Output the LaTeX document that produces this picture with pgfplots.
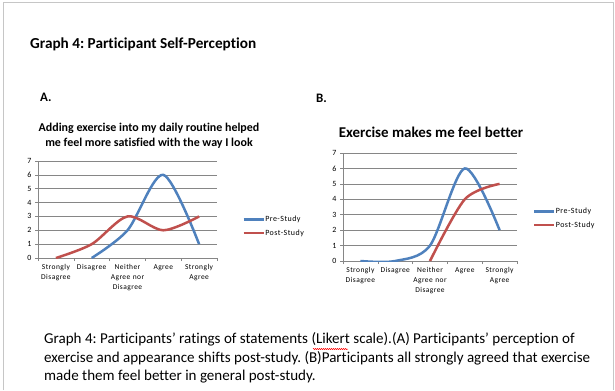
\documentclass[border=0pt]{standalone}
\usepackage{fontspec}
\setmainfont{Carlito}[Ligatures=NoCommon]
\usepackage{pgfplots}
\pgfplotsset{compat=1.18}
\usetikzlibrary{decorations.pathmorphing}
\definecolor{exblue}{RGB}{79,129,189}
\definecolor{exred}{RGB}{192,80,77}
\definecolor{exgrid}{RGB}{134,134,134}
\newcommand{\spaced}{\addfontfeatures{LetterSpace=6}}
\frenchspacing
\pgfplotsset{
  lk/.style={
    scale only axis,
    ymin=0, ymax=7, ytick={0,...,7},
    xmin=-0.5, xmax=4.5,
    xtick={-0.5,0.5,...,4.5}, xticklabels={},
    extra x ticks={0,1,2,3,4},
    extra x tick labels={{Strongly\\Disagree},{Disagree},{Neither\\Agree nor\\Disagree},{Agree},{Strongly\\Agree}},
    extra x tick style={major tick length=0pt, xmajorgrids=false},
    axis x line*=bottom, axis y line*=left,
    axis line style={-, draw=exgrid, line width=0.6bp},
    ymajorgrids, grid style={draw=exgrid, line width=0.6bp},
    tick align=outside, major tick length=3bp,
    tick style={draw=exgrid, line width=0.6bp},
    /pgf/number format/assume math mode=true,
    yticklabel style={font=\fontsize{8}{9}\selectfont, xshift=0bp},
    xticklabel style={font=\fontsize{7.5}{10}\selectfont\spaced, align=center, text width=44bp, yshift=-3bp},
    legend image code/.code={\draw[#1] (0bp,0bp) -- (20bp,0bp);},
    legend cell align=left,
    legend style={draw=none, fill=none, font=\fontsize{8}{9}\selectfont\spaced, row sep=3.5bp, inner sep=0pt, nodes={inner xsep=0.5bp, inner ysep=1.5bp}},
  }
}
\begin{document}
\frenchspacing
\begin{tikzpicture}[x=1bp,y=1bp]
\useasboundingbox (0,0) rectangle (615,390);
\draw[gray!45, line width=1bp] (3,0) -- (3,387) -- (613,387) -- (613,0);
\node[anchor=west, font=\fontsize{15.3}{17}\selectfont\bfseries, inner sep=0] at (30,390-44) {Graph 4: Participant Self-Perception};
\node[anchor=west, font=\fontsize{13}{15}\selectfont\bfseries, inner sep=0] at (40,390-97) {A.};
\node[anchor=west, font=\fontsize{13}{15}\selectfont\bfseries, inner sep=0] at (316,390-98) {B.};
\node[font=\fontsize{12}{13}\selectfont\bfseries, inner sep=0] at (149,390-128) {Adding exercise into my daily routine helped};
\node[font=\fontsize{12}{13}\selectfont\bfseries, inner sep=0] at (149,390-143) {me feel more satisfied with the way I look};
\node[font=\fontsize{15}{17}\selectfont\bfseries, inner sep=0] at (431,390-132) {Exercise makes me feel better};

\begin{axis}[lk, at={(38bp,132bp)}, anchor=south west, width=179bp, height=97bp,
  legend style={at={(1.14,0.325)}, anchor=west}]
\addplot[exblue, line width=2.5bp, smooth, tension=0.5] coordinates {(1,0) (2,2) (3,6) (4,1)};
\addplot[exred, line width=2.5bp, smooth, tension=0.5] coordinates {(0,0) (1,1) (2,3) (3,2) (4,3)};
\legend{Pre-Study, Post-Study}
\end{axis}

\begin{axis}[lk, at={(343bp,129bp)}, anchor=south west, width=174bp, height=108bp,
  legend style={at={(1.09,0.394)}, anchor=west}]
\addplot[exblue, line width=2.5bp, smooth, tension=0.5] coordinates {(0,0) (1,0) (2,1) (3,6) (4,2)};
\addplot[exred, line width=2.5bp, smooth, tension=0.5] coordinates {(2,0) (3,4) (4,5)};
\legend{Pre-Study, Post-Study}
\end{axis}

\begin{scope}[every node/.style={anchor=west, inner sep=0, font=\fontsize{15.1}{18}\selectfont}]
\node at (44,390-339) {Graph 4: Participants’ ratings of statements (Likert scale).(A) Participants’ perception of};
\node at (44,390-358) {exercise and appearance shifts post-study. (B)Participants all strongly agreed that exercise};
\node at (44,390-377) {made them feel better in general post-study.};
\end{scope}
\draw[red, line width=0.5bp, decoration={snake, amplitude=0.6bp, segment length=2bp}, decorate] (313,390-349) -- (348,390-349);
\end{tikzpicture}
\end{document}
